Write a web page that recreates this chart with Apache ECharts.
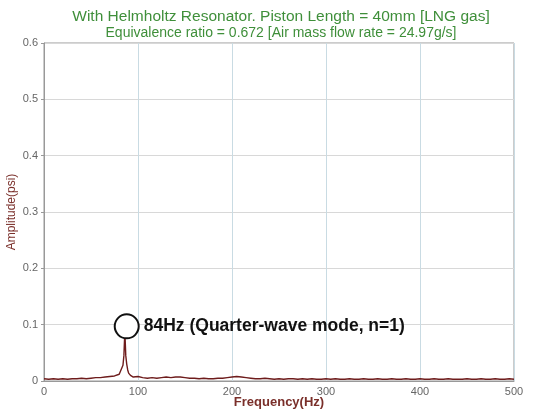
<!DOCTYPE html>
<html>
<head>
<meta charset="utf-8">
<script src="https://cdn.jsdelivr.net/npm/echarts@6/dist/echarts.min.js"></script>
<style>
  html, body { margin: 0; padding: 0; background: #fff; }
  #chart { width: 540px; height: 411px; }
</style>
</head>
<body>
<div id="chart"></div>
<script>
  // spectrum (Hz, psi)
  let freqHz = [
    0, 5, 10, 15, 20, 25, 30, 35, 40, 45, 50, 55, 60, 65, 70, 75,
    80, 82, 84, 85, 86, 87, 88, 89, 90, 92, 95,
    100, 105, 110, 115, 120, 125, 130, 135, 140, 145, 150, 155, 160, 165, 170, 175, 180, 185, 190, 195,
    200, 205, 210, 215, 220, 225, 230, 235, 240, 245, 250, 255, 260, 265, 270, 275, 280, 285, 290, 295,
    300, 305, 310, 315, 320, 325, 330, 335, 340, 345, 350, 355, 360, 365, 370, 375, 380, 385, 390, 395,
    400, 405, 410, 415, 420, 425, 430, 435, 440, 445, 450, 455, 460, 465, 470, 475, 480, 485, 490, 495, 500
  ]
  let amplitude = [
    0.004, 0.003, 0.004, 0.003, 0.004, 0.003, 0.004, 0.004, 0.005, 0.004, 0.005, 0.006, 0.006, 0.007, 0.008, 0.009,
    0.012, 0.015, 0.028, 0.045, 0.088, 0.045, 0.030, 0.020, 0.014, 0.010, 0.007,
    0.008, 0.006, 0.005, 0.006, 0.005, 0.006, 0.007, 0.006, 0.007, 0.007, 0.006, 0.005, 0.005, 0.004, 0.005, 0.004, 0.004, 0.005, 0.005, 0.006,
    0.007, 0.008, 0.007, 0.006, 0.005, 0.004, 0.004, 0.005, 0.004, 0.003, 0.004, 0.003, 0.004, 0.004, 0.003, 0.004, 0.003, 0.004, 0.003, 0.003,
    0.004, 0.003, 0.004, 0.003, 0.003, 0.004, 0.003, 0.003, 0.004, 0.003, 0.003, 0.004, 0.003, 0.003, 0.004, 0.003, 0.003, 0.004, 0.003, 0.003,
    0.004, 0.003, 0.003, 0.004, 0.003, 0.003, 0.004, 0.003, 0.003, 0.003, 0.004, 0.003, 0.003, 0.004, 0.003, 0.003, 0.004, 0.003, 0.003, 0.004, 0.003
  ]
  let peakMark = [88, 0.097]
  let peakText = '84Hz (Quarter-wave mode, n=1)'
  let titleMain = 'With Helmholtz Resonator. Piston Length = 40mm [LNG gas]'
  let titleSub = 'Equivalence ratio = 0.672 [Air mass flow rate = 24.97g/s]'

  let chart = echarts.init(document.getElementById('chart'))
  let options = {
    backgroundColor: '#fff',
    animation: false,
    title: {
      text: titleMain,
      subtext: titleSub,
      left: 276,
      textAlign: 'center',
      top: 4,
      itemGap: 1,
      textStyle: { color: '#3f8f3a', fontSize: 15.5, fontWeight: 'normal', fontFamily: 'Liberation Sans' },
      subtextStyle: { color: '#3f8f3a', fontSize: 14, fontFamily: 'Liberation Sans' }
    },
    grid: {
      left: 44, right: 26, top: 43, bottom: 30,
      outerBoundsMode: 'none',
      show: true,
      borderColor: '#999',
      borderWidth: 1
    },
    xAxis: {
      type: 'value',
      min: 0,
      max: 500,
      interval: 100,
      name: 'Frequency(Hz)',
      nameLocation: 'middle',
      nameGap: 15,
      nameMoveOverlap: false,
      nameTextStyle: { color: '#7a2f2a', fontSize: 13, fontWeight: 'bold', fontFamily: 'Liberation Sans' },
      axisLine: { lineStyle: { color: '#999' } },
      axisTick: { show: false },
      axisLabel: { color: '#666', fontSize: 11, margin: 5, fontFamily: 'Liberation Sans' },
      splitLine: { lineStyle: { color: '#c9dbe3', width: 1 } }
    },
    yAxis: {
      type: 'value',
      min: 0,
      max: 0.6,
      interval: 0.1,
      name: 'Amplitude(psi)',
      nameLocation: 'middle',
      nameGap: 26,
      nameMoveOverlap: false,
      nameTextStyle: { color: '#7a2f2a', fontSize: 12, fontFamily: 'Liberation Sans' },
      axisLine: { show: true, lineStyle: { color: '#999' } },
      axisTick: { show: true, length: 3, lineStyle: { color: '#999' } },
      axisLabel: { color: '#666', fontSize: 11, margin: 6, fontFamily: 'Liberation Sans' },
      splitLine: { lineStyle: { color: '#d8d8d8', width: 1 } }
    },
    series: [
      {
        type: 'line',
        showSymbol: false,
        data: freqHz.map(function (f, i) { return [f, amplitude[i]] }),
        lineStyle: { color: '#6e1c1c', width: 1.4 },
        markPoint: {
          silent: true,
          symbol: 'emptyCircle',
          symbolSize: 24,
          itemStyle: { color: '#111', borderColor: '#111', borderWidth: 2.5 },
          label: {
            show: true,
            position: 'right',
            distance: 4,
            formatter: peakText,
            color: '#111',
            fontSize: 17.5,
            fontWeight: 'bold',
            fontFamily: 'Liberation Sans'
          },
          data: [{ coord: peakMark }]
        }
      }
    ]
  }
  chart.setOption(options)
</script>
</body>
</html>
